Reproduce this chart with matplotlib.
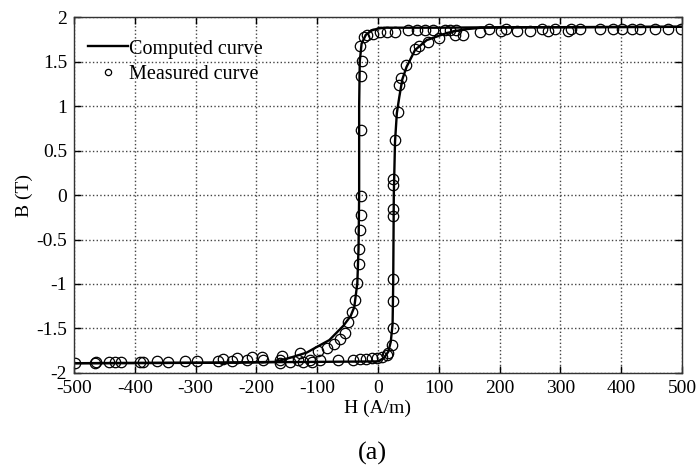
import matplotlib
matplotlib.use("Agg")
import matplotlib.pyplot as plt
import numpy as np

plt.rcParams['font.family'] = ['Liberation Serif', 'DejaVu Serif']
plt.rcParams['axes.unicode_minus'] = False

# computed curve, ascending branch (H in A/m, B in T)
h_up = [-500, -300, -200, -100, 0, 10, 17, 21, 24, 25, 26, 28, 31, 35, 40, 47,
        61, 80, 113, 140, 170, 250, 500]
b_up = [-1.89, -1.885, -1.88, -1.875, -1.87, -1.83, -1.76, -1.65, -1.45, -1.0,
        0.0, 0.6, 0.92, 1.1, 1.3, 1.44, 1.63, 1.74, 1.82, 1.86, 1.88, 1.885, 1.89]

# computed curve, descending branch
h_down = [500, 300, 200, 100, 10, 0, -10, -20, -27, -30, -31, -31, -32, -34,
          -39, -45, -57, -80, -104, -117, -145, -170, -250, -500]
b_down = [1.89, 1.885, 1.885, 1.88, 1.88, 1.87, 1.85, 1.8, 1.7, 1.5, 1.0, 0.0,
          -0.6, -0.99, -1.26, -1.36, -1.47, -1.63, -1.72, -1.77, -1.83, -1.875,
          -1.885, -1.89]

# measured points (H, B), grouped by part of the loop
meas_bottom_left = [(-498, -1.89), (-465, -1.89), (-463, -1.88), (-443, -1.88),
                    (-433, -1.88), (-422, -1.88), (-392, -1.88), (-386, -1.88),
                    (-364, -1.86), (-346, -1.88), (-317, -1.87), (-298, -1.86),
                    (-263, -1.86), (-255, -1.84), (-240, -1.86), (-232, -1.83),
                    (-216, -1.85), (-208, -1.82), (-190, -1.82), (-161, -1.89),
                    (-158, -1.81), (-145, -1.88), (-128, -1.78), (-123, -1.88),
                    (-109, -1.88)]
meas_left = [(-98, -1.75), (-84, -1.72), (-73, -1.67), (-62, -1.62), (-54, -1.55),
             (-49, -1.43), (-42, -1.31), (-38, -1.18), (-35, -0.99), (-32, -0.78),
             (-31, -0.61), (-30, -0.39), (-28.5, -0.22), (-28.5, -0.01),
             (-28.5, 0.73), (-28.5, 1.34), (-27, 1.51), (-30, 1.67),
             (-22.5, 1.77), (-18.6, 1.80), (-7.7, 1.81)]
meas_top = [(3, 1.83), (14, 1.83), (28, 1.83), (50, 1.85), (64, 1.85), (77, 1.85),
            (91, 1.85), (110, 1.85), (118, 1.85), (129, 1.85), (140, 1.80),
            (167, 1.83), (183, 1.87), (203, 1.84), (211, 1.87), (228, 1.84),
            (250, 1.84), (269, 1.87), (280, 1.84), (291, 1.87), (313, 1.84),
            (318, 1.87), (332, 1.87), (365, 1.87), (387, 1.87), (401, 1.87),
            (417, 1.87), (431, 1.87), (456, 1.87), (477, 1.87), (498, 1.87)]
meas_right = [(127, 1.80), (101, 1.76), (83, 1.72), (68, 1.67), (61, 1.64),
              (46, 1.46), (38, 1.31), (35, 1.24), (33, 0.93), (28, 0.62),
              (25, 0.18), (25, 0.11), (25, -0.16), (24, -0.24), (24, -0.94),
              (24, -1.19), (24, -1.49), (22.5, -1.69), (17, -1.78)]
meas_bottom = [(14, -1.80), (6, -1.82), (-2, -1.83), (-10, -1.83), (-19, -1.84),
               (-30, -1.84), (-41, -1.85), (-65, -1.85), (-95, -1.85),
               (-112, -1.85), (-131, -1.85), (-161, -1.85), (-189, -1.85)]

meas = meas_bottom_left + meas_left + meas_top + meas_right + meas_bottom
h_meas = [p[0] for p in meas]
b_meas = [p[1] for p in meas]

fig = plt.figure(figsize=(6.96, 4.70), dpi=100)
ax = fig.add_axes([0.1063, 0.2064, 0.8736, 0.7574])

ax.plot(h_up, b_up, color='black', lw=1.7, label='Computed curve')
ax.plot(h_down, b_down, color='black', lw=1.7)
ax.plot(h_meas, b_meas, 'o', mfc='none', mec='black', ms=7.5, mew=0.9,
        label='Measured curve')

ax.set_xlim(-500, 500)
ax.set_ylim(-2, 2)
ax.set_xticks(np.arange(-500, 501, 100))
ax.set_yticks(np.arange(-2, 2.01, 0.5))
ax.set_yticklabels(['-2', '-1.5', '-1', '-0.5', '0', '0.5', '1', '1.5', '2'])
ax.tick_params(direction='in', top=True, right=True, length=5, width=1,
               labelsize=14, pad=5)
ax.grid(True, linestyle=':', color='#444444', lw=1)
for s in ax.spines.values():
    s.set_linewidth(1)
    s.set_color('#333333')

ax.set_xlabel('H (A/m)', fontsize=14, labelpad=2)
ax.set_ylabel('B (T)', fontsize=14, labelpad=2)
ax.legend(loc='upper left', bbox_to_anchor=(0.023, 0.937), frameon=False,
          fontsize=14.5, handlelength=2.0, handletextpad=0.05, borderpad=0,
          borderaxespad=0, labelspacing=0.3, markerscale=0.6)
fig.text(0.535, 0.035, '(a)', fontsize=19, ha='center', va='center')

fig.savefig('out.png', dpi=100)
